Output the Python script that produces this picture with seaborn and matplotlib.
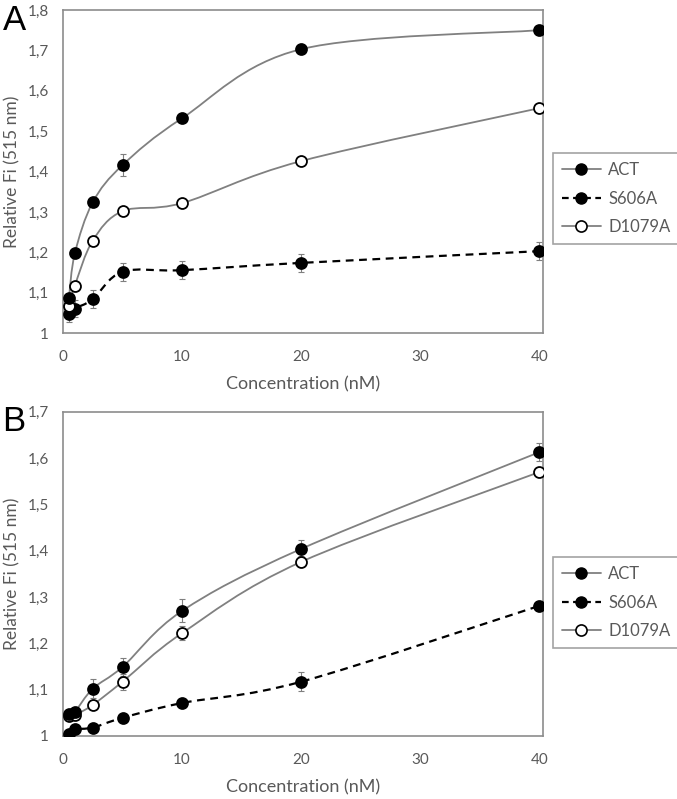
import numpy as np
import pandas as pd
import seaborn as sns
import matplotlib.pyplot as plt
from matplotlib.path import Path
from matplotlib.patches import PathPatch
from matplotlib.lines import Line2D

# concentrations (nM)
conc = [0.5, 1, 2.5, 5, 10, 20, 40]

# panel A
a_act = [1.087, 1.198, 1.324, 1.416, 1.532, 1.703, 1.750]
a_act_err = [0.010, 0.008, 0.010, 0.028, 0.010, 0.010, 0.008]
a_s606a = [1.047, 1.061, 1.084, 1.152, 1.156, 1.174, 1.203]
a_s606a_err = [0.020, 0.020, 0.022, 0.022, 0.022, 0.022, 0.022]
a_d1079a = [1.067, 1.118, 1.229, 1.302, 1.322, 1.426, 1.557]
a_d1079a_err = [0.005, 0.005, 0.006, 0.006, 0.006, 0.005, 0.005]

# panel B
b_act = [1.048, 1.052, 1.102, 1.149, 1.270, 1.404, 1.613]
b_act_err = [0.008, 0.008, 0.020, 0.020, 0.025, 0.020, 0.020]
b_s606a = [1.005, 1.014, 1.018, 1.039, 1.071, 1.117, 1.281]
b_s606a_err = [0.004, 0.004, 0.005, 0.005, 0.005, 0.020, 0.010]
b_d1079a = [1.043, 1.045, 1.067, 1.117, 1.222, 1.376, 1.570]
b_d1079a_err = [0.008, 0.008, 0.010, 0.017, 0.015, 0.012, 0.010]

series_names = ["ACT", "S606A", "D1079A"]
x_ticks = [0, 10, 20, 30, 40]
a_yticks = [1.0, 1.1, 1.2, 1.3, 1.4, 1.5, 1.6, 1.7, 1.8]
a_ylabels = ["1", "1,1", "1,2", "1,3", "1,4", "1,5", "1,6", "1,7", "1,8"]
b_yticks = [1.0, 1.1, 1.2, 1.3, 1.4, 1.5, 1.6, 1.7]
b_ylabels = ["1", "1,1", "1,2", "1,3", "1,4", "1,5", "1,6", "1,7"]

sns.set_theme(style="white")
plt.rcParams['font.family'] = ['Lato', 'DejaVu Sans']

TXT = '#595959'
LINE = '#808080'
SPINE = '#8c8c8c'


def smooth_path(x, y):
    # excel-style smoothed line through the points
    pts = np.column_stack([x, y])
    n = len(pts)
    verts = [pts[0]]
    codes = [Path.MOVETO]
    for i in range(n - 1):
        p0 = pts[max(i - 1, 0)]
        p1 = pts[i]
        p2 = pts[i + 1]
        p3 = pts[min(i + 2, n - 1)]
        verts += [p1 + (p2 - p0) / 6, p2 - (p3 - p1) / 6, p2]
        codes += [Path.CURVE4] * 3
    return Path(verts, codes)


def draw_series(ax, y, err, line_color, dashed, face):
    ax.errorbar(conc, y, yerr=err, fmt='none', ecolor='#7f7f7f',
                elinewidth=0.8, capsize=2.5, capthick=0.8, zorder=2)
    ls = (0, (3.5, 2.5)) if dashed else '-'
    lw = 1.6 if dashed else 1.3
    ax.add_patch(PathPatch(smooth_path(conc, y), facecolor='none',
                           edgecolor=line_color, lw=lw, linestyle=ls, zorder=3))
    sns.scatterplot(x=conc, y=y, ax=ax, s=62, color=face, edgecolor='black',
                    linewidth=1.3, zorder=4, legend=False)


def style_axes(ax, yticks, ylabels, ylim):
    ax.set_xlim(0, 40.3)
    ax.set_ylim(*ylim)
    ax.set_xticks(x_ticks)
    ax.set_xticklabels([str(t) for t in x_ticks])
    ax.set_yticks(yticks)
    ax.set_yticklabels(ylabels)
    ax.tick_params(length=0, labelsize=11, labelcolor=TXT)
    ax.tick_params(axis='x', pad=12)
    ax.tick_params(axis='y', pad=10)
    ax.set_xlabel("Concentration (nM)", fontsize=13, color=TXT, labelpad=9)
    ax.set_ylabel("Relative Fi (515 nm)", fontsize=12.5, color=TXT, labelpad=5)
    for sp in ax.spines.values():
        sp.set_color(SPINE)
        sp.set_linewidth(1.2)


fig = plt.figure(figsize=(6.77, 7.99), dpi=100)
axA = fig.add_axes([0.093, 0.583, 0.709, 0.4045])
axB = fig.add_axes([0.093, 0.079, 0.709, 0.4055])

draw_series(axA, a_s606a, a_s606a_err, 'black', True, 'black')
draw_series(axA, a_d1079a, a_d1079a_err, LINE, False, 'white')
draw_series(axA, a_act, a_act_err, LINE, False, 'black')
style_axes(axA, a_yticks, a_ylabels, (1.0, 1.8))

draw_series(axB, b_s606a, b_s606a_err, 'black', True, 'black')
draw_series(axB, b_d1079a, b_d1079a_err, LINE, False, 'white')
draw_series(axB, b_act, b_act_err, LINE, False, 'black')
style_axes(axB, b_yticks, b_ylabels, (1.0, 1.7))

handles = [
    Line2D([], [], color=LINE, lw=1.3, marker='o', markersize=8,
           markerfacecolor='black', markeredgecolor='black'),
    Line2D([], [], color='black', lw=1.6, linestyle=(0, (3, 2)), marker='o',
           markersize=8, markerfacecolor='black', markeredgecolor='black'),
    Line2D([], [], color=LINE, lw=1.3, marker='o', markersize=8,
           markerfacecolor='white', markeredgecolor='black', markeredgewidth=1.2),
]

for top in (0.8085, 0.303):
    leg = fig.legend(handles, series_names, loc='upper left',
                     bbox_to_anchor=(0.817, top), bbox_transform=fig.transFigure,
                     borderaxespad=0, fontsize=12, frameon=True, fancybox=False,
                     handlelength=2.3, labelspacing=0.75, borderpad=0.55,
                     handletextpad=0.45, labelcolor=TXT)
    leg.get_frame().set_edgecolor(SPINE)
    leg.get_frame().set_linewidth(1.2)

fig.text(0.004, 0.995, "A", fontsize=25, family='Liberation Sans', va='top', color='black')
fig.text(0.003, 0.493, "B", fontsize=25, family='Liberation Sans', va='top', color='black')

fig.savefig("out.png", dpi=100)
